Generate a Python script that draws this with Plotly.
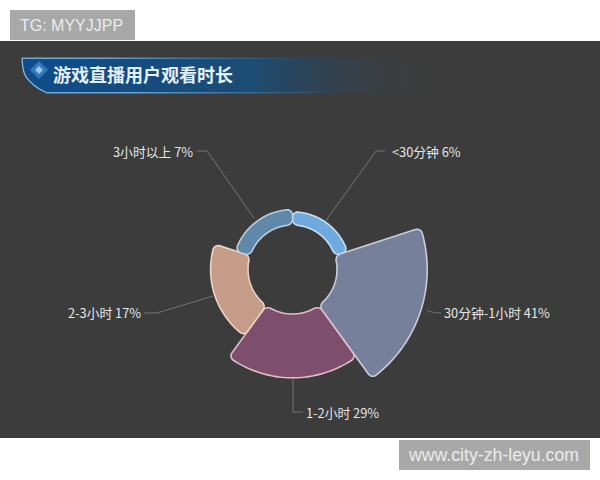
import numpy as np
import plotly.graph_objects as go

# data, clockwise from 12 o'clock
categories = ["<30分钟", "30分钟-1小时", "1-2小时", "2-3小时", "3小时以上"]
values = [6, 41, 29, 17, 7]
fill_colors = ["#6fa9dd", "#76809a", "#7e4f6d", "#c49c87", "#6088a9"]
edge_colors = ["#c4e0f5", "#c9cedb", "#e3bccb", "#ecd3c5", "#b9cfe0"]
title_text = "游戏直播用户观看时长"

W, H = 600, 480
CX, CY = 292.5, 269.5   # centre of the rose, page pixels
HOLE = 44.5             # px radius of the hole
PX_PER_UNIT = 2.2       # px per percentage point
OUTER = 150             # px radius of the polar domain
FONT = "Noto Sans CJK SC"


def sector_outline(start, end, value, corner=5.5):
    """Closed outline of one rounded rose sector, in polar axis units."""
    c = min(corner, value * PX_PER_UNIT / 2)
    cr = c / PX_PER_UNIT
    d_out = np.degrees(c / (HOLE + value * PX_PER_UNIT))
    d_in = np.degrees(c / HOLE)
    a = np.radians(np.linspace(0, 90, 8))
    s, k = np.sin(a), np.cos(a)
    theta = np.concatenate([
        start + d_out * (1 - k),
        np.linspace(start + d_out, end - d_out, 40),
        end - d_out + d_out * s,
        end - d_in + d_in * k,
        np.linspace(end - d_in, start + d_in, 40),
        start + d_in - d_in * s,
        [start],
    ])
    r = np.concatenate([
        value - cr + cr * s,
        np.full(40, value),
        value - cr + cr * k,
        cr - cr * s,
        np.zeros(40),
        cr * (1 - k),
        [value - cr],
    ])
    return theta, r


def px_x(x):
    return x / W


def px_y(y):
    return 1 - y / H


fig = go.Figure()

# title banner, hidden cartesian axes in page pixels
fig.add_trace(go.Scatter(
    x=[22, 440, 440, 47, 35, 25, 22], y=[58, 58, 93, 93, 86, 75, 58],
    mode="lines", line=dict(width=0), fill="toself", hoverinfo="skip", showlegend=False,
    fillgradient=dict(type="horizontal", colorscale=[
        [0, "rgba(14,76,140,1)"], [0.55, "rgba(28,76,115,1)"], [1, "rgba(60,60,60,0)"]]),
))
for y0, y1, x1 in [(57.5, 59, 300), (92, 93.5, 340)]:
    fig.add_trace(go.Scatter(
        x=[22 if y0 < 60 else 47, x1, x1, 22 if y0 < 60 else 47], y=[y0, y0, y1, y1],
        mode="lines", line=dict(width=0), fill="toself", hoverinfo="skip", showlegend=False,
        fillgradient=dict(type="horizontal", colorscale=[
            [0, "rgba(120,180,225,0.9)"], [0.3, "rgba(125,185,230,0.8)"], [1, "rgba(100,150,190,0)"]]),
    ))
fig.add_trace(go.Scatter(
    x=[47, 35, 25, 22], y=[93, 86, 75, 58], mode="lines", hoverinfo="skip", showlegend=False,
    line=dict(color="#86bde4", width=1.3, shape="spline"),
))
fig.add_trace(go.Scatter(
    x=[39, 39], y=[70, 70], mode="markers", hoverinfo="skip", showlegend=False,
    marker=dict(symbol="diamond", size=[14, 6], color=["#3f8fd2", "#cfe8fa"], line_width=0),
))

# rose sectors
step = 360 / len(values)
for i, (name, v) in enumerate(zip(categories, values)):
    theta, r = sector_outline(i * step, (i + 1) * step, v)
    fig.add_trace(go.Scatterpolar(
        theta=theta, r=r, mode="lines", fill="toself", name=name,
        fillcolor=fill_colors[i], line=dict(color=edge_colors[i], width=1.6),
        showlegend=False, hoverinfo="skip",
    ))

# leader lines (page pixels)
leaders = [
    "M 385 151 L 376 151 L 325 222",
    "M 427 310 Q 431 313 441 313",
    "M 293 378 L 293 412 L 303 412",
    "M 144 313 L 157 313 L 213 296",
    "M 197 151 L 207 151 L 254 218",
]
shapes = [
    dict(type="rect", xref="paper", yref="paper", x0=0, x1=1, y0=px_y(438), y1=px_y(41),
         fillcolor="#3c3c3c", line_width=0, layer="below"),
    dict(type="rect", xref="paper", yref="paper", x0=px_x(10), x1=px_x(135), y0=px_y(40), y1=px_y(10),
         fillcolor="#a8a8a8", line_width=0, layer="below"),
    dict(type="rect", xref="paper", yref="paper", x0=px_x(399), x1=px_x(590), y0=px_y(470), y1=px_y(440),
         fillcolor="#a8a8a8", line_width=0, layer="below"),
]
for path in leaders:
    shapes.append(dict(type="path", xref="x", yref="y", path=path,
                       line=dict(color="#737575", width=1), layer="below"))

# labels: (anchor side, x, y) per category
label_pos = [("left", 390, 151), ("left", 442, 312), ("left", 304, 412), ("right", 143, 312), ("right", 195, 151)]
annotations = []
for name, v, (side, x, y) in zip(categories, values, label_pos):
    annotations.append(dict(
        text=f"{name} {v}%", xref="paper", yref="paper", x=px_x(x), y=px_y(y),
        xanchor=side, yanchor="middle", showarrow=False,
        font=dict(family=FONT, size=12.8, color="#e6e6e6"),
    ))
annotations.append(dict(
    text=f"<b>{title_text}</b>", xref="paper", yref="paper", x=px_x(51), y=px_y(74),
    xanchor="left", yanchor="middle", showarrow=False,
    font=dict(family=FONT, size=18, color="#e4f0f8"),
))
annotations.append(dict(
    text="TG: MYYJJPP", xref="paper", yref="paper", x=px_x(18), y=px_y(25),
    xanchor="left", yanchor="middle", showarrow=False,
    font=dict(family="Liberation Sans", size=16, color="#ececec"),
))
annotations.append(dict(
    text="www.city-zh-leyu.com", xref="paper", yref="paper", x=px_x(406), y=px_y(455),
    xanchor="left", yanchor="middle", showarrow=False,
    font=dict(family="Liberation Sans", size=17.7, color="#ececec"),
))

fig.update_layout(
    width=W, height=H, autosize=False,
    margin=dict(l=0, r=0, t=0, b=0),
    paper_bgcolor="#ffffff", plot_bgcolor="rgba(0,0,0,0)",
    showlegend=False,
    xaxis=dict(range=[0, W], domain=[0, 1], visible=False, fixedrange=True),
    yaxis=dict(range=[H, 0], domain=[0, 1], visible=False, fixedrange=True),
    polar=dict(
        domain=dict(x=[px_x(CX - OUTER), px_x(CX + OUTER)], y=[px_y(CY + OUTER), px_y(CY - OUTER)]),
        bgcolor="rgba(0,0,0,0)",
        radialaxis=dict(visible=False, range=[-HOLE / PX_PER_UNIT, (OUTER - HOLE) / PX_PER_UNIT]),
        angularaxis=dict(visible=False, direction="clockwise", rotation=90),
    ),
    shapes=shapes,
    annotations=annotations,
)

# page body margin would push the figure 8px off
fig.write_html("out.html", config={"displayModeBar": False},
               post_script="document.body.style.margin = '0';")
